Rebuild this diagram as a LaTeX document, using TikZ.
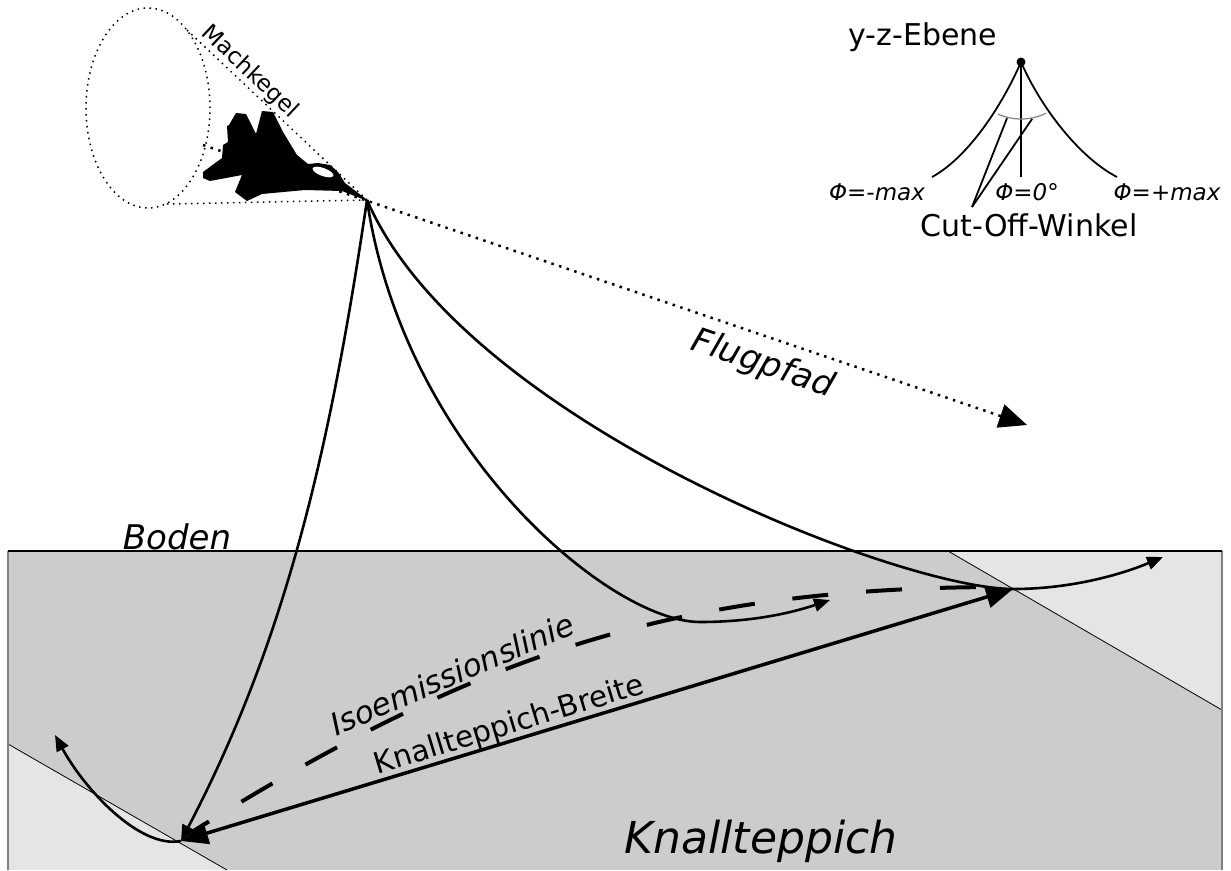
\documentclass[tikz,border=0pt]{standalone}
\usepackage{fontspec}
\setmainfont{DejaVu Sans}
\usetikzlibrary{arrows.meta}

\tikzset{
  lbl/.style={inner sep=0pt, font=\fontsize{#1}{#1}\selectfont},
  ray/.style={line width=2.6pt, -{Triangle[length=16pt,width=13pt]}},
  bigtip/.tip={Triangle[length=27pt,width=22pt]},
  pathdots/.style={line width=2.5pt, dash pattern=on 2.5pt off 5.5pt},
  conedots/.style={line width=1.5pt, dash pattern=on 1.5pt off 4.5pt},
  thin line/.style={line width=1.8pt},
}

\begin{document}
\begin{tikzpicture}[x=1pt,y=1pt]
\useasboundingbox (0,0) rectangle (1231,-870);

% ground with the carpet
\fill[black!20] (8,-551) rectangle (1222,-870);
\fill[black!10] (8,-744) -- (227,-870) -- (8,-870) -- cycle;
\fill[black!10] (948,-551) -- (1222,-551) -- (1222,-710) -- cycle;
\draw[line width=0.8pt] (8,-744) -- (227,-870);
\draw[line width=0.8pt] (948,-551) -- (1222,-710);
\draw[gray, line width=1.2pt] (8,-870) -- (8,-551);
\draw[gray, line width=1.2pt] (1222,-551) -- (1222,-870);
\draw[line width=1.5pt] (8,-551) -- (1222,-551);
\node[lbl=34, anchor=base] (boden) at (177,-549) {\itshape Boden};
\node[lbl=44, anchor=base] (teppich) at (761,-853) {\itshape Knallteppich};

\coordinate (nose) at (367,-200);
\coordinate (heck) at (203,-145);
\coordinate (ziel) at (1027,-425);
\coordinate (coneA) at (187,-30);
\coordinate (coneB) at (167,-204);
\coordinate (impL) at (181,-841);
\coordinate (impR) at (1013,-589);
\coordinate (mitte) at (830,-600);
\coordinate (rechts) at (1163,-557);
\coordinate (links) at (55,-735);
\coordinate (isoL) at (192,-832);
\coordinate (isoR) at (1003,-587);

% Machkegel and flight path
\draw[conedots] (148,-108) ellipse [x radius=62, y radius=100];
\draw[conedots] (coneA) -- (nose) node[pos=0.3, sloped, above=1pt, lbl=23] {Machkegel};
\draw[conedots] (coneB) -- (nose);
\draw[pathdots, -{Triangle[length=28pt,width=24pt]}] (heck) -- (ziel)
  node[pos=0.69, sloped, below=10pt, lbl=34] {\itshape Flugpfad};

% jet
\fill (370,-202) -- (345,-183) -- (338,-172) -- (330,-165) -- (318,-163) -- (308,-164)
  -- (297,-155) -- (283,-132) -- (273,-112) -- (262,-111) -- (256,-134) -- (246,-114)
  -- (236,-113) -- (229,-125) -- (227,-126) -- (228,-142) -- (223,-145) -- (222,-158)
  -- (203,-172) -- (203,-178) -- (210,-181) -- (242,-175) -- (235,-192) -- (247,-201)
  -- (262,-194) -- (305,-190) -- (342,-191) -- cycle;
\fill[white, rotate around={-20:(323,-172)}] (323,-172) ellipse [x radius=11, y radius=4];

% rays
\draw[ray] (nose) .. controls (330,-450) and (286,-640) .. (impL);
\draw[ray] (impL) .. controls (140,-849) and (85,-790) .. (links);
\draw[ray] (nose) .. controls (404,-450) and (610,-622) .. (700,-622)
  .. controls (760,-622) and (800,-610) .. (mitte);
\draw[ray] (nose) .. controls (462,-420) and (899,-589) .. (impR)
  .. controls (1070,-589) and (1120,-575) .. (rechts);

\draw[line width=4pt, dash pattern=on 36pt off 38pt, dash phase=16pt] (isoL) to[out=32,in=180]
  node[pos=0.34, sloped, above=2pt, lbl=31] {\itshape Isoemissionslinie} (isoR);
\draw[line width=3.5pt, bigtip-bigtip] (impL) -- (impR)
  node[pos=0.4, sloped, above=-1pt, lbl=29.5] {Knallteppich-Breite};

% y-z plane
\node[circle, fill, inner sep=0pt, minimum size=9pt] (pol) at (1021,-62) {};
\node[lbl=30, anchor=base] (ebene) at (923,-45) {y-z-Ebene};
\node[lbl=23, anchor=base] (minus) at (877,-200) {\itshape Φ=-max};
\node[lbl=23, anchor=base] (null) at (1027,-200) {\itshape Φ=0°};
\node[lbl=23, anchor=base] (plus) at (1167,-200) {\itshape Φ=+max};
\node[lbl=30, anchor=base] (winkel) at (1029,-236) {Cut-Off-Winkel};
\coordinate (cutoff) at (972,-207);
\draw[thin line] (pol.center) -- (1021,-177);
\draw[thin line] (pol.center) .. controls (1001,-108) and (967,-158) .. (932,-177);
\draw[thin line] (pol.center) .. controls (1041,-108) and (1080,-158) .. (1117,-177);
\draw[gray, line width=1.2pt] ([shift={(246:57)}]pol.center) arc[start angle=246, end angle=296, radius=57];
\draw[thin line] (cutoff) -- ([shift={(256:58)}]pol.center);
\draw[thin line] (cutoff) -- ([shift={(281:58)}]pol.center);
\end{tikzpicture}
\end{document}
